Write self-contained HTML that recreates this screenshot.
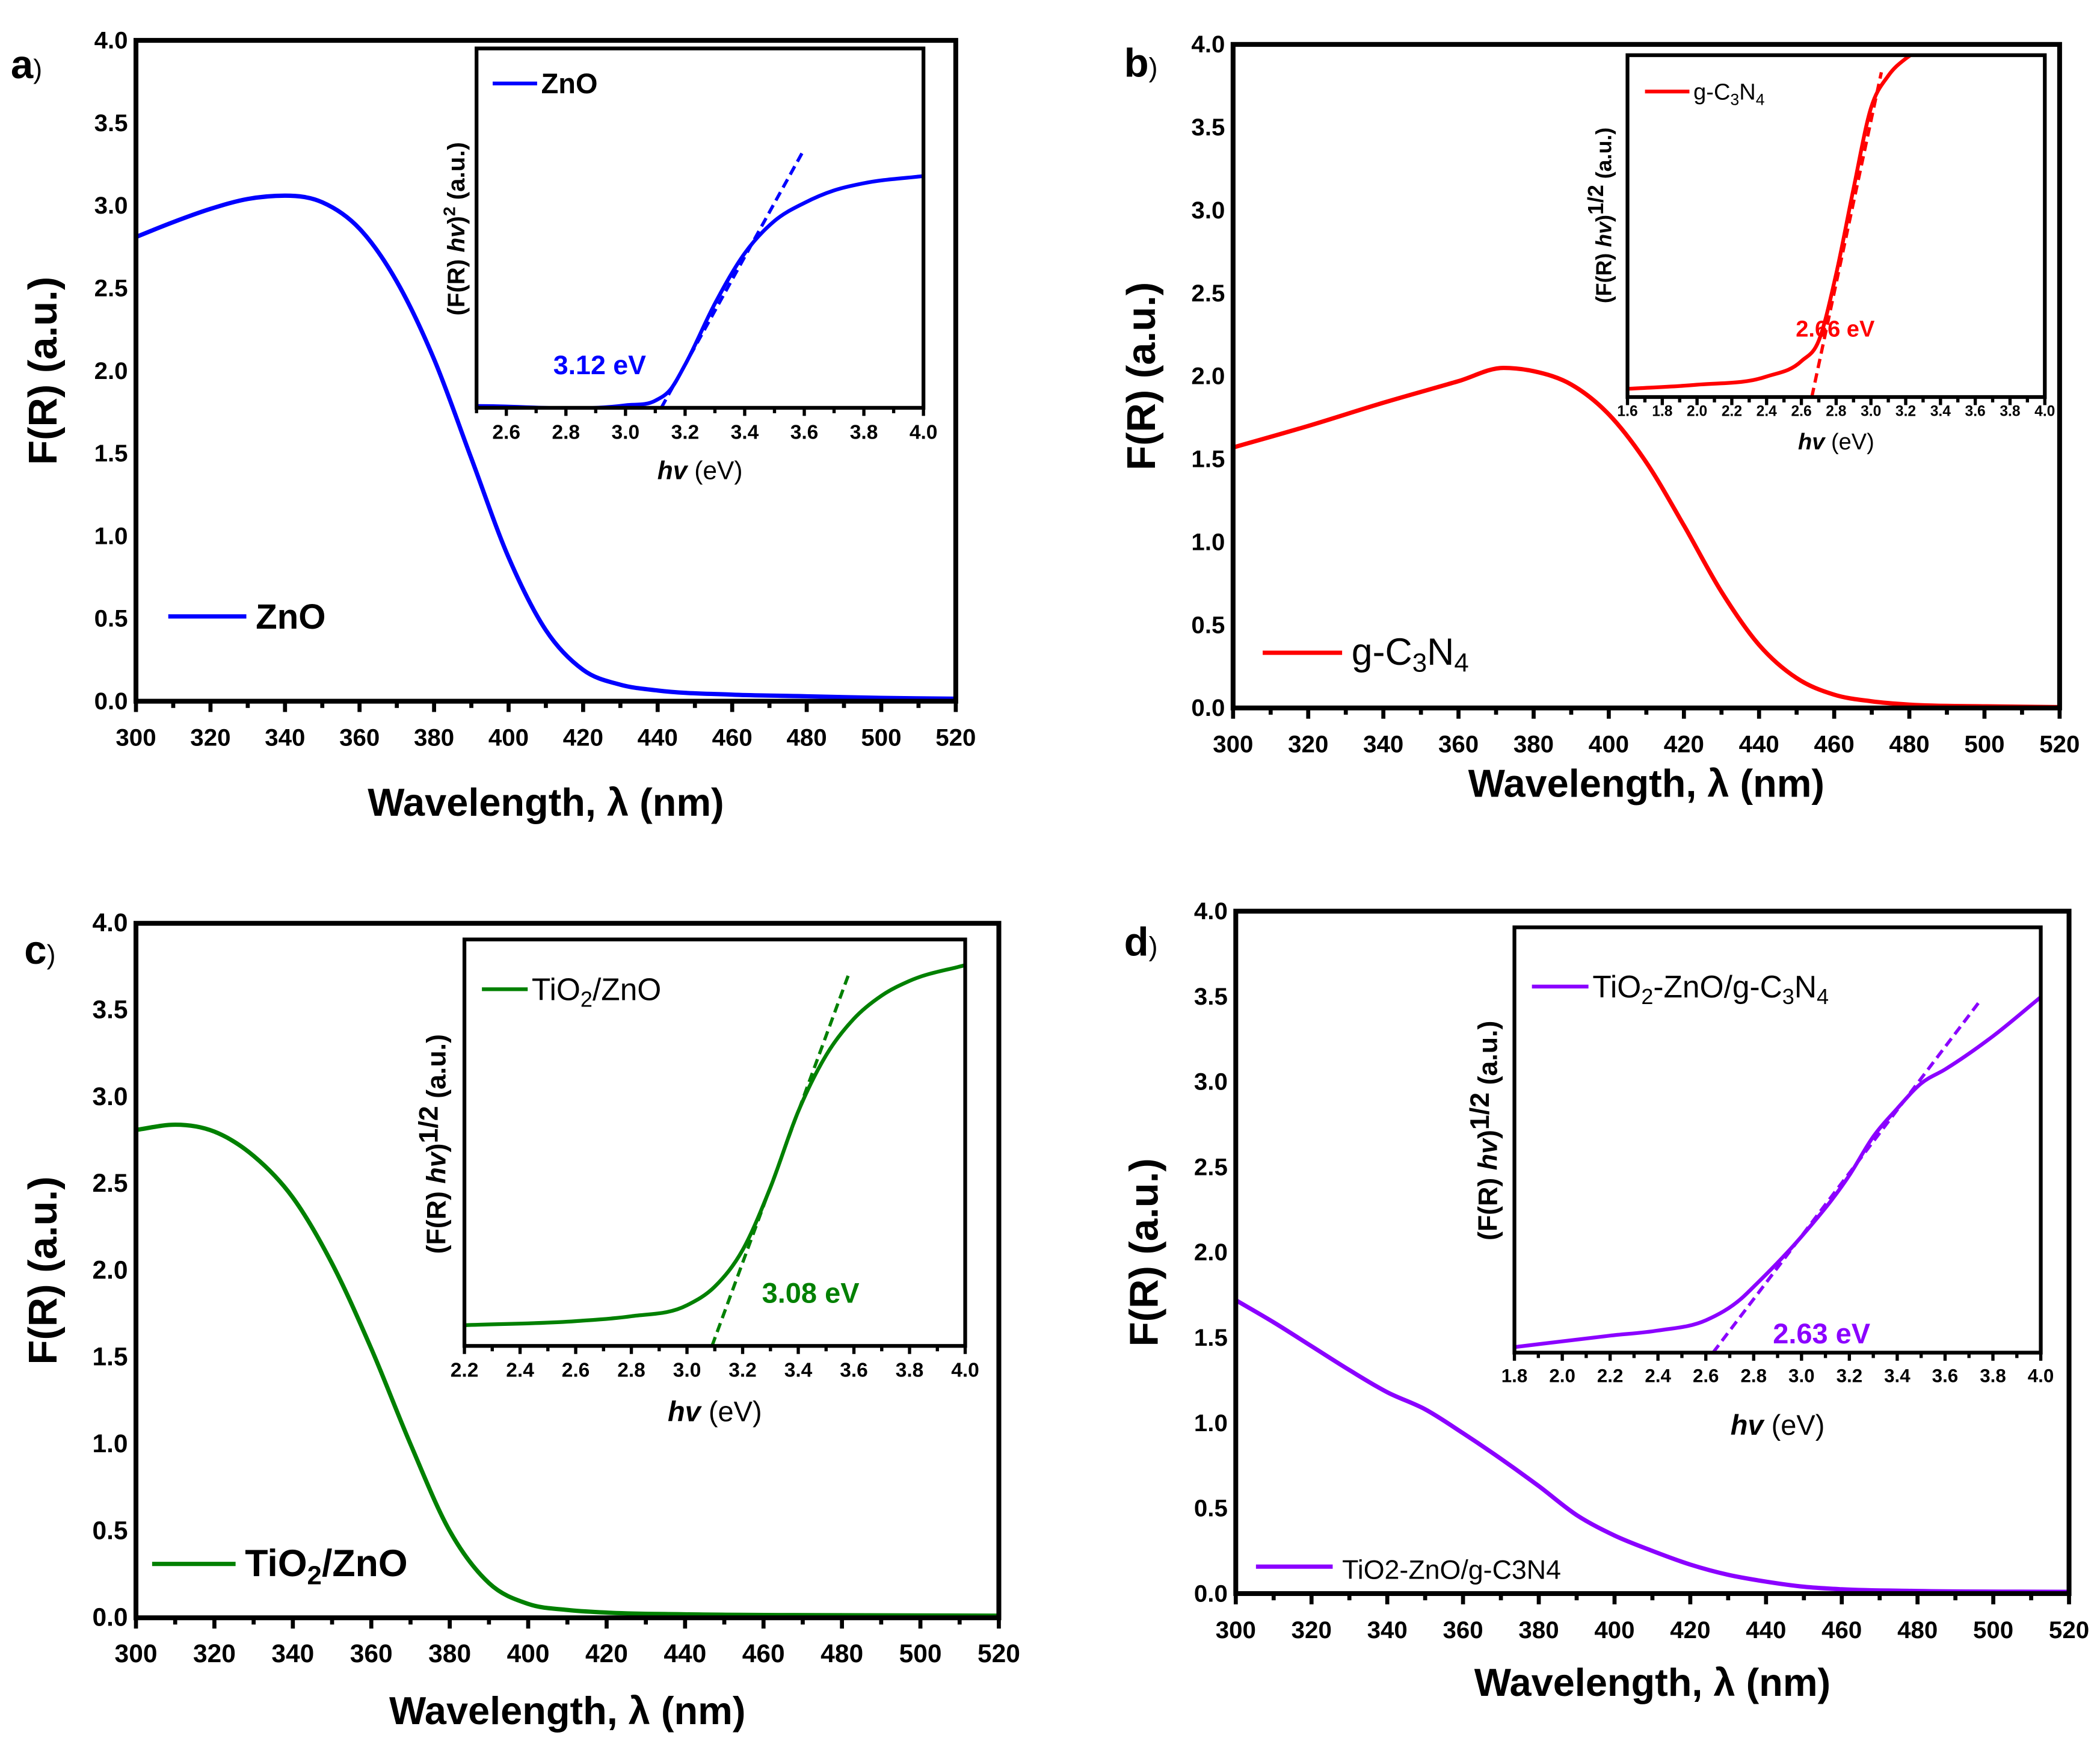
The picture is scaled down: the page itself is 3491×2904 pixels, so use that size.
<!DOCTYPE html>
<html><head><meta charset="utf-8"><style>
html,body{margin:0;padding:0;background:#fff;}
svg{display:block;font-family:"Liberation Sans",Arial,sans-serif;}
</style></head><body>
<svg id="fig" width="3491" height="2904" viewBox="0 0 1560 1298" preserveAspectRatio="none" xmlns="http://www.w3.org/2000/svg">
<defs></defs>
</svg>
<script>
// ---------- DATA ----------
const wlA = [300,310,320,330,340,350,360,370,380,390,400,410,420,430,440,460,480,500,520];
const valA = [2.81,2.90,2.98,3.04,3.06,3.02,2.86,2.54,2.07,1.47,0.87,0.43,0.19,0.10,0.065,0.04,0.03,0.02,0.015];
const wlB = [300,320,340,360,372,380,390,400,410,420,430,440,450,460,470,480,500,520];
const valB = [1.57,1.70,1.84,1.97,2.05,2.03,1.95,1.77,1.48,1.10,0.70,0.38,0.18,0.08,0.04,0.02,0.01,0.005];
const wlC = [300,310,320,330,340,350,360,370,380,390,400,410,420,440,480,520];
const valC = [2.81,2.84,2.80,2.66,2.42,2.04,1.55,1.00,0.50,0.20,0.08,0.045,0.03,0.02,0.015,0.012];
const wlD = [300,310,320,330,340,350,360,370,380,390,400,410,420,430,440,450,460,480,520];
const valD = [1.72,1.59,1.45,1.31,1.18,1.08,0.94,0.79,0.63,0.46,0.34,0.25,0.17,0.11,0.07,0.04,0.025,0.015,0.01];
const yTicksMain = [0,0.5,1,1.5,2,2.5,3,3.5,4];
const yTickLabelsMain = ["0.0","0.5","1.0","1.5","2.0","2.5","3.0","3.5","4.0"];
const xTicksMain = [300,320,340,360,380,400,420,440,460,480,500,520];

const evA = [2.5,3.0,3.1,3.15,3.2,3.3,3.4,3.5,3.6,3.7,3.8,4.0];
const inA = [0.005,0.007,0.02,0.05,0.12,0.29,0.43,0.52,0.57,0.605,0.625,0.645];
const tanA = [[3.12,0],[3.6,0.72]];
const inTicksA = [2.6,2.8,3.0,3.2,3.4,3.6,3.8,4.0];
const evB = [1.6,2.0,2.4,2.6,2.7,2.8,2.9,3.0,3.1,3.2,3.3,3.5,4.0];
const inB = [0.024,0.036,0.06,0.105,0.165,0.36,0.61,0.845,0.94,0.99,1.02,1.05,1.05];
const tanB = [[2.66,0],[3.06,0.95]];
const inTicksB = [1.6,1.8,2.0,2.2,2.4,2.6,2.8,3.0,3.2,3.4,3.6,3.8,4.0];
const evC = [2.2,2.6,2.8,3.0,3.1,3.2,3.3,3.4,3.5,3.6,3.7,3.8,4.0];
const inC = [0.051,0.061,0.073,0.10,0.146,0.236,0.39,0.577,0.715,0.805,0.862,0.898,0.937];
const tanC = [[3.09,0],[3.58,0.912]];
const inTicksC = [2.2,2.4,2.6,2.8,3.0,3.2,3.4,3.6,3.8,4.0];
const evD = [1.8,2.2,2.4,2.6,2.75,2.8,3.0,3.2,3.3,3.4,3.5,3.6,3.8,4.0];
const inD = [0.013,0.04,0.052,0.076,0.128,0.155,0.273,0.417,0.508,0.574,0.633,0.666,0.744,0.836];
const tanD = [[2.63,0],[3.75,0.83]];
const inTicksD = [1.8,2.0,2.2,2.4,2.6,2.8,3.0,3.2,3.4,3.6,3.8,4.0];

// ---------- HELPERS ----------
const NS="http://www.w3.org/2000/svg";
const svg=document.getElementById('fig');
function mk(tag,attrs,parent){const e=document.createElementNS(NS,tag);for(const k in attrs)e.setAttribute(k,attrs[k]);(parent||svg).appendChild(e);return e;}
function txt(x,y,s,size,opts,parent){opts=opts||{};const t=mk('text',{x:x,y:y,'font-size':size,'font-weight':opts.w||'bold','text-anchor':opts.a||'middle',fill:opts.fill||'#000'},parent);if(opts.rot)t.setAttribute('transform','rotate(-90 '+x+' '+y+')');t.innerHTML=s;return t;}
let clipId=0;
function lineChart(g,L,R,T,B,x0,x1,y0,y1,xs,ys,color,w,dash){
  const sx=v=>L+(v-x0)/(x1-x0)*(R-L), sy=v=>B-(v-y0)/(y1-y0)*(B-T);
  const id='c'+(clipId++);
  const cp=mk('clipPath',{id:id},svg.querySelector('defs'));mk('rect',{x:L,y:T,width:R-L,height:B-T},cp);
  const P=xs.map((v,i)=>[sx(v),sy(ys[i])]);
  let d;
  if(dash){d='M'+P[0][0]+','+P[0][1]+' L'+P[1][0]+','+P[1][1];}
  else{
    const n=P.length, m=[];
    for(let i=0;i<n;i++){
      if(i===0)m.push((P[1][1]-P[0][1])/(P[1][0]-P[0][0]));
      else if(i===n-1)m.push((P[n-1][1]-P[n-2][1])/(P[n-1][0]-P[n-2][0]));
      else{const s0=(P[i][1]-P[i-1][1])/(P[i][0]-P[i-1][0]),s1=(P[i+1][1]-P[i][1])/(P[i+1][0]-P[i][0]);
        const h0=P[i][0]-P[i-1][0],h1=P[i+1][0]-P[i][0];
        m.push(s0*s1<=0?0:(s0*h1+s1*h0)/(h0+h1));}
    }
    d='M'+P[0][0].toFixed(2)+','+P[0][1].toFixed(2);
    for(let i=0;i<n-1;i++){const dx=(P[i+1][0]-P[i][0])/3;
      d+=' C'+(P[i][0]+dx).toFixed(2)+','+(P[i][1]+m[i]*dx).toFixed(2)+' '+(P[i+1][0]-dx).toFixed(2)+','+(P[i+1][1]-m[i+1]*dx).toFixed(2)+' '+P[i+1][0].toFixed(2)+','+P[i+1][1].toFixed(2);}
  }
  const p=mk('path',{d:d,fill:'none',stroke:color,'stroke-width':w,'clip-path':'url(#'+id+')','stroke-linejoin':'round'},g);
  if(dash)p.setAttribute('stroke-dasharray',dash);
  return p;
}
function panel(cfg){
  const g=mk('g',{});
  
  
  const {L,R,T,B}=cfg;
  const sx=v=>L+(v-300)/220*(R-L), sy=v=>B-v/4*(B-T);
  const c=lineChart(g,L,R,T,B,300,520,0,4,cfg.wl,cfg.val,cfg.color,3.2);
  
  
  const f=mk('rect',{x:L,y:T,width:R-L,height:B-T,fill:'none',stroke:'#000','stroke-width':3.6},g);
  
  
  for(let v=300;v<=520;v+=10){const major=(v%20===0);mk('line',{x1:sx(v),x2:sx(v),y1:B,y2:B+(major?8:5),stroke:'#000','stroke-width':3},g);}
  xTicksMain.forEach(v=>{const t=txt(sx(v),B+33,String(v),cfg.tfs||18,{},g);});
  yTicksMain.forEach((v,i)=>{const t=txt(L-6,sy(v)+6,yTickLabelsMain[i],cfg.tfs||18,{a:'end'},g);});
  const xt=txt((L+R)/2,cfg.xty,'Wavelength, λ (nm)',29,{},g);
  
  const yt=txt(cfg.ytx,(T+B)/2,'F(R) (a.u.)',30,{rot:1},g);
  
  const lab=txt(cfg.lx,cfg.ly,cfg.letter+'<tspan font-size="20" font-weight="normal">)</tspan>',30,{a:'start'},g);
  
  const lg=mk('g',{},g);
  
  
  mk('line',{x1:cfg.lg[0],x2:cfg.lg[1],y1:cfg.lg[2],y2:cfg.lg[2],stroke:cfg.color,'stroke-width':3.2},lg);
  txt(cfg.lg[1]+7,cfg.lg[2]+9,cfg.lgText,cfg.lgSize||26,{a:'start',w:cfg.lgW||'bold'},lg);
  const I=cfg.inset; const ig=mk('g',{},g);
  
  
  const isx=v=>I.L+(v-I.x0)/(I.x1-I.x0)*(I.R-I.L), isy=v=>I.B-v*(I.B-I.T);
  mk('rect',{x:I.L,y:I.T,width:I.R-I.L,height:I.B-I.T,fill:'#fff'},ig);
  const ic=lineChart(ig,I.L,I.R,I.T,I.B,I.x0,I.x1,0,1,I.ev,I.val,cfg.color,2.8);
  
  const tl=mk('line',{x1:isx(I.tan[0][0]),y1:isy(I.tan[0][1]),x2:isx(I.tan[1][0]),y2:isy(I.tan[1][1]),stroke:cfg.color,'stroke-width':2.4,'stroke-dasharray':'7,4'},ig);
  
  const ir=mk('rect',{x:I.L,y:I.T,width:I.R-I.L,height:I.B-I.T,fill:'none',stroke:'#000','stroke-width':2.8},ig);
  
  for(let v=I.x0;v<=I.x1+1e-6;v+=0.1){const k=Math.round(v*10);const major=(k%2===0);mk('line',{x1:isx(v),x2:isx(v),y1:I.B,y2:I.B+(major?6:4),stroke:'#000','stroke-width':2.4},ig);}
  I.ticks.forEach(v=>{const t=txt(isx(v),I.B+I.tly,v.toFixed(1),I.tfs,{},ig);});
  const ixt=txt((I.L+I.R)/2,I.xty,'<tspan font-style="italic">hv</tspan> <tspan font-weight="normal">(eV)</tspan>',I.xtfs,{},ig);
  
  const iyt=txt(I.ytx,I.yty,I.ytext,I.ytfs,{rot:1},ig);
  
  const il=mk('g',{},ig);
  
  
  mk('line',{x1:I.lg[0],x2:I.lg[1],y1:I.lg[2],y2:I.lg[2],stroke:cfg.color,'stroke-width':2.8},il);
  txt(I.lg[1]+3,I.lg[2]+I.lgfs*0.35,I.lgText,I.lgfs,{a:'start',w:I.lgw||'normal'},il);
  const ev=txt(I.evx,I.evy,I.evText,I.evfs,{a:'start',fill:cfg.color},ig);
  
}
const sub=(s,d)=>'<tspan dy="'+d+'" font-size="70%">'+s+'</tspan><tspan dy="-'+d+'">';
const yt2='(F(R) <tspan font-style="italic">hv</tspan>)<tspan dy="-7" font-size="70%">2</tspan><tspan dy="7"> (a.u.)</tspan>';
const yth='(F(R) <tspan font-style="italic">hv</tspan>)<tspan dy="-6">1/2</tspan><tspan dy="6"> (a.u.)</tspan>';

panel({name:'panel-a',L:101,R:710,T:30,B:521,wl:wlA,val:valA,color:'#0000ff',xty:606,ytx:42,lx:8,ly:58,letter:'a',
  lg:[125,183,458],lgText:'ZnO',
  inset:{L:354,R:686,T:36,B:303,x0:2.5,x1:4.0,ev:evA,val:inA,tan:tanA,ticks:inTicksA,tfs:15,tly:23,xty:356,xtfs:19,
    ytx:345,yty:170,ytext:yt2,ytfs:18,lg:[366,399,62],lgText:'ZnO',lgfs:21,lgw:'bold',evx:411,evy:278,evText:'3.12 eV',evfs:20}});
panel({name:'panel-b',L:916,R:1530,T:33,B:526,wl:wlB,val:valB,color:'#ff0000',xty:592,ytx:858,lx:835,ly:57,letter:'b',
  lg:[938,997,485],lgText:'g-C'+sub('3',5)+'N</tspan>'+sub('4',5)+'</tspan>',lgW:'normal',lgSize:28,
  inset:{L:1209,R:1519,T:41,B:295,x0:1.6,x1:4.0,ev:evB,val:inB,tan:tanB,ticks:inTicksB,tfs:11,tly:14,xty:334,xtfs:17,
    ytx:1197,yty:160,ytext:yth,ytfs:16,lg:[1222,1255,68],lgText:'g-C'+sub('3',4)+'N</tspan>'+sub('4',4)+'</tspan>',lgfs:17,evx:1334,evy:250,evText:'2.66 eV',evfs:17}});
panel({name:'panel-c',L:101,R:742,T:686,B:1202,wl:wlC,val:valC,color:'#008000',xty:1281,ytx:42,lx:18,ly:716,letter:'c',tfs:19,
  lg:[113,175,1162],lgText:'TiO'+sub('2',6)+'/ZnO</tspan>',lgSize:28,
  inset:{L:345,R:717,T:698,B:1000,x0:2.2,x1:4.0,ev:evC,val:inC,tan:tanC,ticks:inTicksC,tfs:15,tly:23,xty:1056,xtfs:21,
    ytx:331,yty:850,ytext:yth,ytfs:20,lg:[358,392,735],lgText:'TiO'+sub('2',5)+'/ZnO</tspan>',lgfs:23,evx:566,evy:968,evText:'3.08 eV',evfs:21}});
panel({name:'panel-d',L:918,R:1537,T:677,B:1184,wl:wlD,val:valD,color:'#8b00ff',xty:1260,ytx:860,lx:835,ly:710,letter:'d',
  lg:[933,990,1164],lgText:'TiO2-ZnO/g-C3N4',lgSize:20,lgW:'normal',
  inset:{L:1125,R:1516,T:689,B:1005,x0:1.8,x1:4.0,ev:evD,val:inD,tan:tanD,ticks:inTicksD,tfs:14,tly:22,xty:1066,xtfs:21,
    ytx:1112,yty:840,ytext:yth,ytfs:20,lg:[1138,1180,733],lgText:'TiO'+sub('2',5)+'-ZnO/g-C</tspan>'+sub('3',5)+'N</tspan>'+sub('4',5)+'</tspan>',lgfs:23,evx:1317,evy:998,evText:'2.63 eV',evfs:21}});
</script>
</body></html>
